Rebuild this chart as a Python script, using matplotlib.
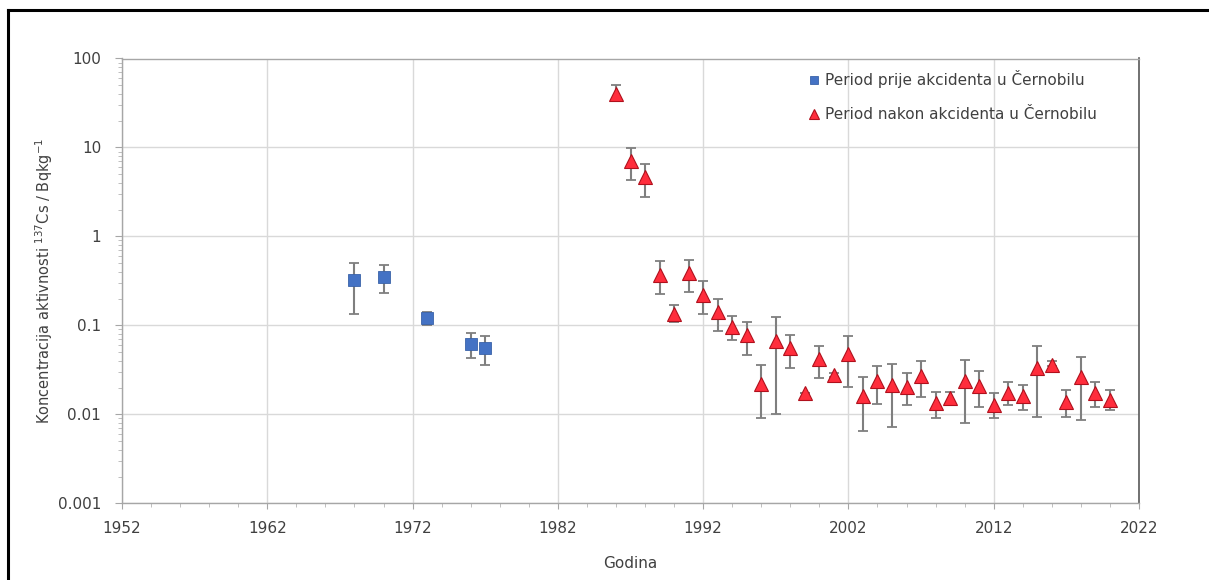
import matplotlib
matplotlib.use("Agg")
import matplotlib.pyplot as plt
from matplotlib.lines import Line2D
from matplotlib.ticker import LogLocator, FixedLocator, MultipleLocator, FuncFormatter
import numpy as np

plt.rcParams["font.family"] = ["DejaVu Sans"]
plt.rcParams["mathtext.fontset"] = "dejavusans"

# ---- data ----
pre_years = [1968, 1970, 1973, 1976, 1977]
pre_vals = [0.32, 0.35, 0.120, 0.0625, 0.0555]
pre_lo = [0.136, 0.231, 0.100, 0.0428, 0.0355]
pre_hi = [0.50, 0.472, 0.140, 0.083, 0.075]

post_years = [1986, 1987, 1988, 1989, 1990, 1991, 1992, 1993, 1994, 1995,
              1996, 1997, 1998, 1999, 2000, 2001, 2002, 2003, 2004, 2005,
              2006, 2007, 2008, 2009, 2010, 2011, 2012, 2013, 2014, 2015,
              2016, 2017, 2018, 2019, 2020]
post_vals = [40.0, 7.0, 4.6, 0.372, 0.136, 0.392, 0.222, 0.143, 0.0962, 0.0776,
             0.0222, 0.067, 0.055, 0.0175, 0.042, 0.0276, 0.0475, 0.016, 0.0236, 0.0216,
             0.0204, 0.0269, 0.0133, 0.0152, 0.0236, 0.0209, 0.0129, 0.0172, 0.0159, 0.0333,
             0.0363, 0.0137, 0.0262, 0.0173, 0.0145]
post_lo = [33.0, 4.27, 2.77, 0.228, 0.109, 0.236, 0.1346, 0.0867, 0.068, 0.047,
           0.009, 0.010, 0.0334, 0.0175, 0.0258, 0.0262, 0.0202, 0.00653, 0.013, 0.0072,
           0.0128, 0.0157, 0.0091, 0.0133, 0.0079, 0.0122, 0.0092, 0.0126, 0.0112, 0.0093,
           0.0348, 0.0093, 0.0086, 0.0122, 0.0111]
post_hi = [50.0, 9.8, 6.45, 0.526, 0.169, 0.548, 0.313, 0.199, 0.128, 0.109,
           0.0357, 0.1245, 0.077, 0.0175, 0.0594, 0.029, 0.075, 0.026, 0.0348, 0.0366,
           0.0288, 0.0393, 0.018, 0.0178, 0.0407, 0.0306, 0.0173, 0.023, 0.0213, 0.0589,
           0.0393, 0.0187, 0.0443, 0.0232, 0.0187]

x_ticks = [1952, 1962, 1972, 1982, 1992, 2002, 2012, 2022]
y_ticks = [0.001, 0.01, 0.1, 1, 10, 100]
y_ticklabels = ["0.001", "0.01", "0.1", "1", "10", "100"]

label_pre = "Period prije akcidenta u Černobilu"
label_post = "Period nakon akcidenta u Černobilu"
xlabel = "Godina"
ylabel = r"Koncentracija aktivnosti $^{137}$Cs / Bqkg$^{-1}$"

# ---- figure ----
W, H = 1209, 580
fig = plt.figure(figsize=(W / 100, H / 100), dpi=100)
fig.patch.set_facecolor("white")
l, r, t, b = 122, 1139, 58.5, 503.3
ax = fig.add_axes([l / W, 1 - b / H, (r - l) / W, (b - t) / H])

text_color = "#404040"
err_color = "#7F7F7F"

pv = np.array(pre_vals)
ax.errorbar(pre_years, pv, yerr=[pv - np.array(pre_lo), np.array(pre_hi) - pv],
            fmt="none", ecolor=err_color, elinewidth=1.5, capsize=3.5, capthick=1.3, zorder=2)
ax.plot(pre_years, pv, linestyle="none", marker="s", markersize=8.5,
        markerfacecolor="#4472C4", markeredgecolor="#3A62A8", markeredgewidth=0.6,
        label=label_pre, zorder=3)

qv = np.array(post_vals)
ax.errorbar(post_years, qv, yerr=[qv - np.array(post_lo), np.array(post_hi) - qv],
            fmt="none", ecolor=err_color, elinewidth=1.5, capsize=3.5, capthick=1.3, zorder=2)
ax.plot(post_years, qv, linestyle="none", marker="^", markersize=9.5,
        markerfacecolor="#FF2D3C", markeredgecolor="#B0101C", markeredgewidth=0.8,
        label=label_post, zorder=3)

ax.set_yscale("log")
ax.set_xlim(1952, 2022)
ax.set_ylim(0.001, 100)

ax.xaxis.set_major_locator(FixedLocator(x_ticks))
ax.xaxis.set_minor_locator(MultipleLocator(2))
ax.yaxis.set_major_locator(FixedLocator(y_ticks))
ax.set_yticklabels(y_ticklabels)
ax.yaxis.set_minor_locator(LogLocator(base=10, subs=np.arange(2, 10), numticks=20))
ax.yaxis.set_minor_formatter(FuncFormatter(lambda v, p: ""))

ax.grid(True, which="major", color="#D9D9D9", linewidth=1.0)
ax.set_axisbelow(True)

for s in ["left", "bottom", "top"]:
    ax.spines[s].set_color("#A6A6A6")
    ax.spines[s].set_linewidth(1.0)
ax.spines["right"].set_color("#595959")
ax.spines["right"].set_linewidth(1.2)

ax.tick_params(axis="both", which="major", direction="out", length=4, width=0.8,
               color="#A6A6A6", labelsize=11, labelcolor=text_color)
ax.tick_params(axis="y", which="major", length=5, pad=10)
ax.tick_params(axis="x", which="major", pad=9)
ax.tick_params(axis="both", which="minor", direction="out", length=3, width=0.7, color="#BFBFBF")

ax.set_xlabel(xlabel, fontsize=11, color=text_color, labelpad=14)
ax.set_ylabel(ylabel, fontsize=10.5, color=text_color, labelpad=14)
ax.yaxis.set_label_coords(-(l - 55) / (r - l), 0.5)

leg = ax.legend(loc="upper left", bbox_to_anchor=((806 - l) / (r - l), 1 - (70 - t) / (b - t)),
                frameon=False, borderaxespad=0, borderpad=0,
                fontsize=11, labelspacing=1.25, handletextpad=0.25, handlelength=1.0,
                markerscale=0.75)
for txt in leg.get_texts():
    txt.set_color(text_color)

# outer border of the picture
fig.add_artist(Line2D([8 / W, 1.0], [1 - 10 / H, 1 - 10 / H], transform=fig.transFigure,
                      color="black", linewidth=2.2))
fig.add_artist(Line2D([8 / W, 8 / W], [0.0, 1 - 10 / H], transform=fig.transFigure,
                      color="black", linewidth=2.2))

fig.savefig("out.png", dpi=100, facecolor="white")
